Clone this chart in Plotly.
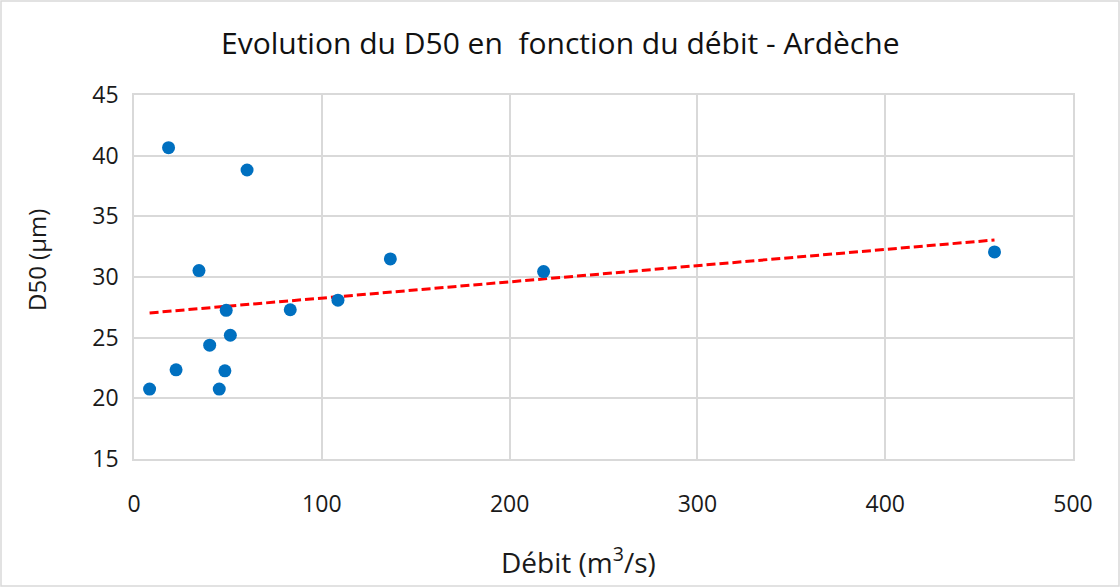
import numpy as np
import plotly.graph_objects as go

# Data
debit = [8.3, 18.4, 22.4, 34.6, 40.3, 45.4, 48.4, 49.1, 51.3, 60.2, 83.2, 108.6, 136.5, 218.1, 458.2]
d50 = [20.76, 40.66, 22.35, 30.53, 24.38, 20.76, 22.27, 27.25, 25.2, 38.82, 27.3, 28.09, 31.49, 30.45, 32.07]

x_ticks = [0, 100, 200, 300, 400, 500]
y_ticks = [15, 20, 25, 30, 35, 40, 45]

title_text = "Evolution du D50 en  fonction du débit - Ardèche"
x_title = "Débit (m<sup>3</sup>/s)"
y_title = "D50 (µm)"

W, H = 1120, 587
L, R, T, B = 134, 47, 95, 128

slope, intercept = np.polyfit(debit, d50, 1)
tx = [min(debit), max(debit)]
ty = [slope * v + intercept for v in tx]

fig = go.Figure()
fig.add_trace(go.Scatter(x=tx, y=ty, mode="lines",
                         line=dict(color="#FF0000", width=3, dash="9px,4px"),
                         showlegend=False, hoverinfo="skip"))
fig.add_trace(go.Scatter(x=debit, y=d50, mode="markers",
                         marker=dict(color="#0070C0", size=13),
                         showlegend=False))

font_family = "Open Sans, Liberation Sans, sans-serif"
grid = "#D9D9D9"
fig.update_layout(
    width=W, height=H,
    margin=dict(l=L, r=R, t=T, b=B),
    paper_bgcolor="white", plot_bgcolor="white",
    font=dict(family=font_family, color="#1a1a1a", size=23),
    xaxis=dict(range=[0, 500], tickvals=x_ticks, showgrid=True, gridcolor=grid, gridwidth=1.5,
               showline=True, mirror=True, linecolor=grid, linewidth=1.5, zeroline=False,
               ticks="", tickfont=dict(size=23), ticklabelstandoff=24),
    yaxis=dict(range=[15, 45], tickvals=y_ticks, showgrid=True, gridcolor=grid, gridwidth=1.5,
               showline=True, mirror=True, linecolor=grid, linewidth=1.5, zeroline=False,
               ticks="", tickfont=dict(size=23), ticklabelstandoff=9),
)

pw = W - L - R
ph = H - T - B
def px_to_paper_x(px):
    return (px - L) / pw
def px_to_paper_y(py):
    return (H - B - py) / ph

fig.add_annotation(text=title_text, x=px_to_paper_x(560), y=px_to_paper_y(42),
                   xref="paper", yref="paper", showarrow=False,
                   font=dict(size=30, family=font_family, color="#111111"),
                   xanchor="center", yanchor="middle")
fig.add_annotation(text=x_title, x=px_to_paper_x(578), y=px_to_paper_y(560),
                   xref="paper", yref="paper", showarrow=False,
                   font=dict(size=28, family=font_family, color="#1a1a1a"),
                   xanchor="center", yanchor="middle")
fig.add_annotation(text=y_title, x=px_to_paper_x(36), y=px_to_paper_y(260),
                   xref="paper", yref="paper", showarrow=False, textangle=-90,
                   font=dict(size=24, family=font_family, color="#1a1a1a"),
                   xanchor="center", yanchor="middle")

# outer chart border
fig.add_shape(type="rect", xref="paper", yref="paper",
              x0=px_to_paper_x(1), x1=px_to_paper_x(W - 1),
              y0=px_to_paper_y(H - 1), y1=px_to_paper_y(1),
              line=dict(color="#D9D9D9", width=1.5), layer="below")

fig.write_html("out.html", config={"displayModeBar": False},
               post_script="document.body.style.margin='0';document.body.style.overflow='hidden';")
